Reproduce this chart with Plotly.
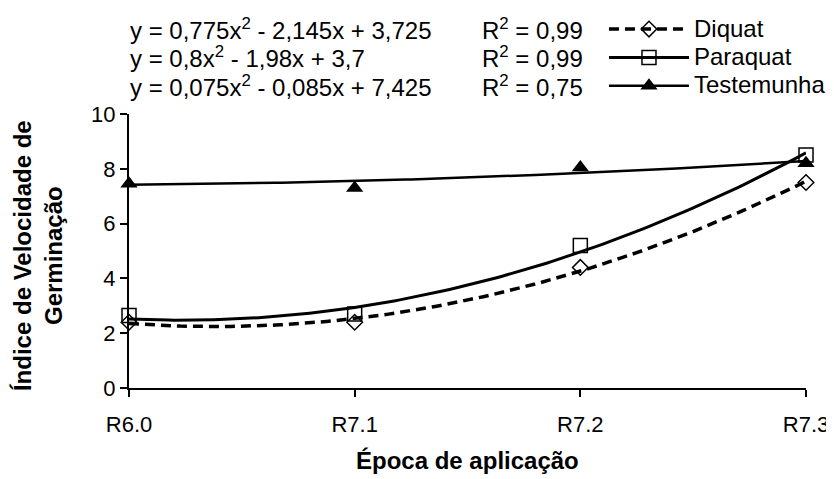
import numpy as np
import plotly.graph_objects as go

# ---- data ----
categories = ["R6.0", "R7.1", "R7.2", "R7.3"]
x_pos = [1, 2, 3, 4]
diquat = [2.4, 2.4, 4.4, 7.5]
paraquat = [2.65, 2.7, 5.2, 8.5]
testemunha = [7.45, 7.3, 8.05, 8.2]

# displayed polynomial trend line coefficients (a, b, c) for y = a x^2 + b x + c
diquat_coef = [0.775, -2.145, 3.725]
paraquat_coef = [0.8, -1.98, 3.7]
testemunha_coef = [0.075, -0.085, 7.425]

series_names = ["Diquat", "Paraquat", "Testemunha"]
eq_texts = ["y = 0,775x<sup>2</sup> - 2,145x + 3,725",
            "y = 0,8x<sup>2</sup> - 1,98x + 3,7",
            "y = 0,075x<sup>2</sup> - 0,085x + 7,425"]
r2_texts = ["R<sup>2</sup> = 0,99", "R<sup>2</sup> = 0,99", "R<sup>2</sup> = 0,75"]
y_ticks = [0, 2, 4, 6, 8, 10]

FONT = "Arial, 'Liberation Sans', sans-serif"
FS_EQ = 24
FS_TICK = 22

xs = np.linspace(1, 4, 121)

fig = go.Figure()

series = [
    (series_names[0], diquat, diquat_coef, dict(color="black", width=3.5, dash="10px,6px"),
     dict(symbol="diamond-open", size=12, color="black", line=dict(width=1.5))),
    (series_names[1], paraquat, paraquat_coef, dict(color="black", width=3),
     dict(symbol="square-open", size=14, color="black", line=dict(width=1.5))),
    (series_names[2], testemunha, testemunha_coef, dict(color="black", width=2.5),
     dict(symbol="triangle-up", size=15, color="black", line=dict(width=0))),
]

for name, vals, coef, line, marker in series:
    fig.add_trace(go.Scatter(x=xs, y=np.polyval(coef, xs), mode="lines", line=line,
                             showlegend=False, hoverinfo="skip", cliponaxis=False))
for name, vals, coef, line, marker in series:
    fig.add_trace(go.Scatter(x=x_pos, y=vals, mode="markers", marker=marker,
                             showlegend=False, cliponaxis=False, name=name))
# legend entries
for name, vals, coef, line, marker in series:
    fig.add_trace(go.Scatter(x=[None], y=[None], mode="lines+markers", line=line,
                             marker=marker,
                             name='<span style="font-size:24px">' + name + '</span>',
                             showlegend=True))

annotations = []
rows_y = [1.310, 1.208, 1.102]
for i in range(3):
    annotations.append(dict(x=-0.0015, y=rows_y[i], xref="paper", yref="paper",
                            text=eq_texts[i], showarrow=False, xanchor="left",
                            yanchor="middle", font=dict(size=FS_EQ, color="black")))
    annotations.append(dict(x=0.5185, y=rows_y[i], xref="paper", yref="paper",
                            text=r2_texts[i], showarrow=False, xanchor="left",
                            yanchor="middle", font=dict(size=FS_EQ, color="black")))
annotations.append(dict(x=0.5, y=-0.263, xref="paper", yref="paper",
                        text="<b>Época de aplicação</b>", showarrow=False,
                        xanchor="center", yanchor="middle",
                        font=dict(size=24, color="black")))
annotations.append(dict(x=-0.1345, y=0.485, xref="paper", yref="paper",
                        text="<b>Índice de Velocidade de<br>Germinação</b>", showarrow=False,
                        textangle=-90, xanchor="center", yanchor="middle",
                        font=dict(size=24, color="black")))

# page body has an 8px margin, so the figure is laid out 8px smaller
fig.update_layout(
    width=826, height=471,
    margin=dict(l=121, r=28, t=106, b=91, autoexpand=False),
    paper_bgcolor="white", plot_bgcolor="white",
    font=dict(family=FONT, size=FS_TICK, color="black"),
    annotations=annotations,
    legend=dict(x=0.7016, y=1.380, xanchor="left", yanchor="top",
                bgcolor="rgba(0,0,0,0)", font=dict(size=19.5), itemwidth=80,
                tracegroupgap=0),
    xaxis=dict(range=[1, 4], tickvals=x_pos, ticktext=categories, showgrid=False,
               zeroline=False, showline=True, linecolor="black", linewidth=2,
               ticks="outside", ticklen=7, tickwidth=2, tickcolor="black",
               tickfont=dict(size=FS_TICK), automargin=False, ticklabelstandoff=9),
    yaxis=dict(range=[0, 10], tickvals=y_ticks, showgrid=False, zeroline=False,
               showline=True, linecolor="black", linewidth=2,
               ticks="outside", ticklen=7, tickwidth=2, tickcolor="black",
               tickfont=dict(size=FS_TICK), automargin=False),
)

fig.write_html("out.html")
